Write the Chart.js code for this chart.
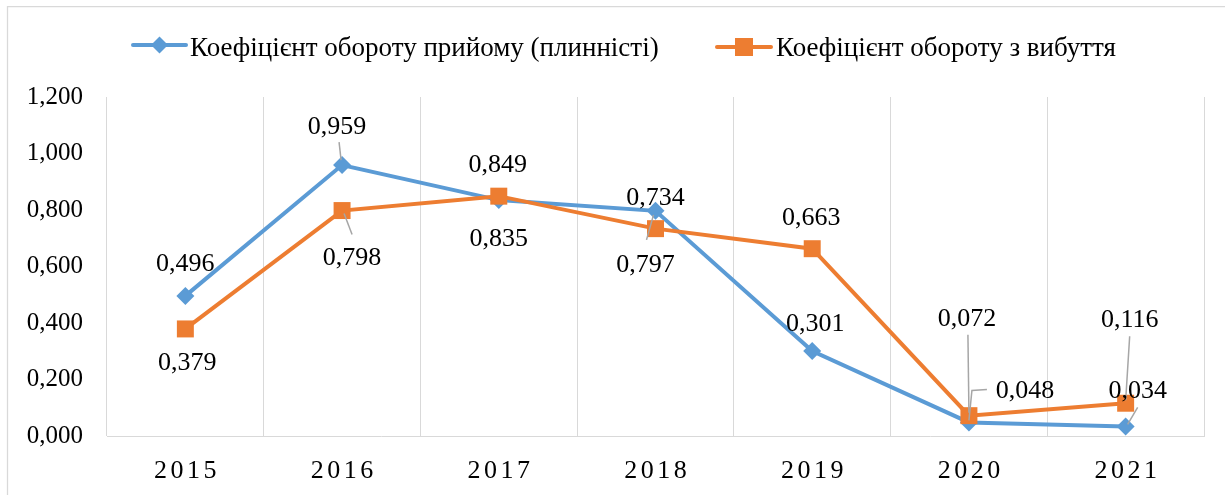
<!DOCTYPE html>
<html>
<head>
<meta charset="utf-8">
<script src="https://cdn.jsdelivr.net/npm/chart.js@4.4.0/dist/chart.umd.min.js"></script>
<style>
  html, body { margin: 0; padding: 0; background: #fff; }
  #wrap { width: 1225px; height: 495px; position: relative; }
</style>
</head>
<body>
<div id="wrap"><canvas id="line-chart"></canvas></div>
<script>
// Дані графіка
const roky = ['2015', '2016', '2017', '2018', '2019', '2020', '2021'];
const pryiom = [0.496, 0.959, 0.835, 0.797, 0.301, 0.048, 0.034];
const vybuttia = [0.379, 0.798, 0.849, 0.734, 0.663, 0.072, 0.116];
const yTicks = [0, 0.2, 0.4, 0.6, 0.8, 1.0, 1.2];
const nazvy = ['Коефіцієнт обороту прийому (плинністі)', 'Коефіцієнт обороту з вибуття'];

const BLUE = '#5B9BD5';
const ORANGE = '#ED7D31';
const SERIF = '"Liberation Serif", "Times New Roman", serif';
const fmt = v => v.toFixed(3).replace('.', ',');

// зсуви підписів відносно точок (px) і виносні лінії
const pidpysy = [
  [
    { dx: 0, dy: -34 },
    { dx: -5, dy: -40, line: [[-3, -23], [-1, -5]] },
    { dx: 0, dy: 37 },
    { dx: -10, dy: 52, line: [[-9, 29], [-2, 4]] },
    { dx: 3, dy: -29 },
    { dx: 56, dy: -33, line: [[18, -33], [3, -32], [0, -2]] },
    { dx: 12, dy: -37, line: [[12, -19], [2, -2]] }
  ],
  [
    { dx: 2, dy: 32 },
    { dx: 10, dy: 45, line: [[10, 24], [2, 3]] },
    { dx: -1, dy: -33 },
    { dx: 0, dy: -33 },
    { dx: -1, dy: -33 },
    { dx: -2, dy: -99, line: [[-1, -81], [0, -3]] },
    { dx: 4, dy: -85, line: [[4, -67], [0, -3]] }
  ]
];

// рамка, легенда, підписи осі X
const ramka = {
  id: 'ramka',
  beforeDraw(chart) {
    const ctx = chart.ctx;
    ctx.save();
    ctx.fillStyle = '#fff';
    ctx.fillRect(0, 0, chart.width, chart.height);
    ctx.strokeStyle = '#d9d9d9';
    ctx.lineWidth = 1.25;
    ctx.beginPath();
    ctx.moveTo(7.5, chart.height);
    ctx.lineTo(7.5, 6.5);
    ctx.lineTo(chart.width, 6.5);
    ctx.stroke();
    ctx.restore();
  },
  afterDraw(chart) {
    const ctx = chart.ctx;
    ctx.save();
    // легенда
    ctx.font = '27px ' + SERIF;
    ctx.fillStyle = '#000';
    ctx.textBaseline = 'alphabetic';
    ctx.textAlign = 'left';

    ctx.strokeStyle = BLUE;
    ctx.lineWidth = 4;
    ctx.lineCap = 'round';
    ctx.beginPath(); ctx.moveTo(133, 45); ctx.lineTo(186, 45); ctx.stroke();
    ctx.fillStyle = BLUE;
    ctx.beginPath();
    ctx.moveTo(159.5, 36.5); ctx.lineTo(168, 45); ctx.lineTo(159.5, 53.5); ctx.lineTo(151, 45);
    ctx.closePath(); ctx.fill();
    ctx.fillStyle = '#000';
    ctx.fillText(nazvy[0], 190, 56);

    ctx.strokeStyle = ORANGE;
    ctx.beginPath(); ctx.moveTo(717, 47); ctx.lineTo(771, 47); ctx.stroke();
    ctx.fillStyle = ORANGE;
    ctx.fillRect(735, 38, 18, 18);
    ctx.fillStyle = '#000';
    ctx.fillText(nazvy[1], 776, 56);

    // підписи осі X з розрідженням
    ctx.font = '26px ' + SERIF;
    const x = chart.scales.x;
    const gap = 3.5;
    roky.forEach((r, i) => {
      const cx = x.getPixelForValue(i);
      const ws = [...r].map(ch => ctx.measureText(ch).width);
      const total = ws.reduce((a, b) => a + b, 0) + gap * (ws.length - 1);
      let px = cx - total / 2;
      [...r].forEach((ch, k) => { ctx.fillText(ch, px, 478); px += ws[k] + gap; });
    });
    ctx.restore();
  }
};

const pidpysyPlugin = {
  id: 'pidpysy',
  afterDatasetsDraw(chart) {
    const ctx = chart.ctx;
    ctx.save();
    chart.data.datasets.forEach((ds, di) => {
      const meta = chart.getDatasetMeta(di);
      meta.data.forEach((pt, i) => {
        const o = pidpysy[di][i];
        if (o.line) {
          ctx.strokeStyle = '#a6a6a6';
          ctx.lineWidth = 1.5;
          ctx.beginPath();
          o.line.forEach(([lx, ly], k) => {
            if (k === 0) ctx.moveTo(pt.x + lx, pt.y + ly); else ctx.lineTo(pt.x + lx, pt.y + ly);
          });
          ctx.stroke();
        }
      });
    });
    ctx.font = '26px ' + SERIF;
    ctx.fillStyle = '#000';
    ctx.textAlign = 'center';
    ctx.textBaseline = 'alphabetic';
    chart.data.datasets.forEach((ds, di) => {
      const meta = chart.getDatasetMeta(di);
      meta.data.forEach((pt, i) => {
        const o = pidpysy[di][i];
        ctx.fillText(fmt(ds.data[i]), pt.x + o.dx, pt.y + o.dy + 9);
      });
    });
    ctx.restore();
  }
};

const config = {
  type: 'line',
  data: {
    labels: roky,
    datasets: [{
      label: nazvy[0],
      data: pryiom,
      borderColor: BLUE,
      backgroundColor: BLUE,
      borderWidth: 4,
      pointStyle: 'rectRot',
      pointRadius: 9,
      pointHoverRadius: 9,
      pointBorderWidth: 0,
      tension: 0,
      order: 1
    }, {
      label: nazvy[1],
      data: vybuttia,
      borderColor: ORANGE,
      backgroundColor: ORANGE,
      borderWidth: 4,
      pointStyle: 'rect',
      pointRadius: 12,
      pointHoverRadius: 12,
      pointBorderWidth: 0,
      tension: 0,
      order: 0
    }]
  },
  options: {
    responsive: true,
    maintainAspectRatio: false,
    animation: false,
    layout: { padding: { top: 97, right: 21, left: 0, bottom: 0 } },
    plugins: {
      legend: { display: false },
      tooltip: { enabled: false }
    },
    scales: {
      x: {
        offset: true,
        grid: { offset: true, color: '#d9d9d9', lineWidth: 1, drawTicks: false },
        border: { color: '#d9d9d9', width: 1 },
        ticks: { display: false },
        afterFit: s => { s.height = 59; }
      },
      y: {
        min: 0,
        max: 1.2,
        grid: { display: false, drawTicks: false },
        border: { display: false },
        afterBuildTicks: s => { s.ticks = yTicks.map(v => ({ value: v })); },
        afterFit: s => { s.width = 107; },
        ticks: {
          padding: 24,
          color: '#000',
          font: { family: SERIF, size: 25 },
          callback: v => fmt(v)
        }
      }
    }
  },
  plugins: [ramka, pidpysyPlugin]
};

window.onload = function () {
  const ctx = document.getElementById('line-chart').getContext('2d');
  new Chart(ctx, config);
};
</script>
</body>
</html>
